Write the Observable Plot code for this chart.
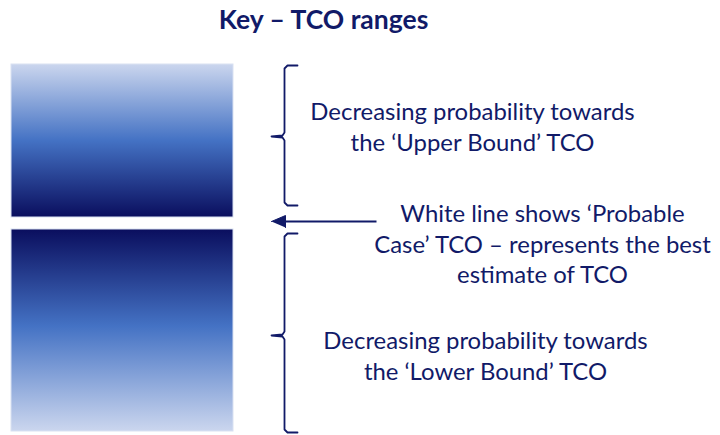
<!DOCTYPE html>
<html><head><meta charset="utf-8">
<script src="https://cdn.jsdelivr.net/npm/d3@7"></script>
<script src="https://cdn.jsdelivr.net/npm/@observablehq/plot@0.6"></script>
<style>html,body{margin:0;padding:0;background:#fff;}</style>
</head><body><div id="chart"></div>
<script>
// ---- diagram content (diagram units = 720 x 435 canvas) ----
const titleText = ["Key – TCO ranges"];
const bandIds = ["upper", "lower"];
const bandTop = [64, 229];
const bandBottom = [217, 431];
const bandLeft = 11, bandRight = 233;

const braceIds = ["upper", "lower"];
const braceTop = [65, 233];
const braceBottom = [205, 432];
const braceTipAt = [136, 335];

const probableCaseY = 221;          // white gap between the two bands
const arrowFrom = 376, arrowTo = 271;

const upperLabel = ["Decreasing probability towards", "the ‘Upper Bound’ TCO"];
const probableLabel = ["White line shows ‘Probable", "Case’ TCO – represents the best", "estimate of TCO"];
const lowerLabel = ["Decreasing probability towards", "the ‘Lower Bound’ TCO"];
const labelCenterX = [472, 542, 485];
const labelBaseline = [133, 250, 362];   // mean baseline of each block
const titleX = 323, titleBaseline = 28;

// ---- styles ----
const ink = "#111a68";
const fs = 23.9, lineGap = 30.5, titleFs = 26.5;
const font = "Lato, 'Open Sans', sans-serif";

const bands = bandIds.map((id, i) => ({id, x1: bandLeft, x2: bandRight, y1: bandTop[i], y2: bandBottom[i]}));

const hook = 13, tip = 13;
const bracePts = braceIds.flatMap((id, i) => {
  const x = 284, a = braceTop[i], b = braceBottom[i], m = braceTipAt[i];
  return [
    [x + hook, a], [x + 3, a], [x, a + 3], [x, m - 4], [x - 2, m - 1], [x - tip, m],
    [x - 2, m + 1], [x, m + 4], [x, b - 3], [x + 3, b], [x + hook, b]
  ].map(([px, py]) => ({id, x: px, y: py}));
});

const head = 14, halfH = 6;
const arrowLine = [{x1: arrowFrom, x2: arrowTo + head - 1, y: probableCaseY}];
const arrowHead = [
  {x: arrowTo, y: probableCaseY},
  {x: arrowTo + head, y: probableCaseY - halfH},
  {x: arrowTo + head, y: probableCaseY + halfH}
];

const labels = [upperLabel, probableLabel, lowerLabel].map((lines, i) => ({
  text: lines.join("\n"),
  x: labelCenterX[i],
  y: labelBaseline[i] - 0.32 * fs
}));

const plot = Plot.plot({
  width: 720, height: 435, margin: 0,
  x: {domain: [0, 720], axis: null},
  y: {domain: [0, 435], reverse: true, axis: null},
  style: {fontFamily: font, color: ink, background: "#fff"},
  marks: [
    Plot.rect(bands.filter(d => d.id === "upper"), {x1: "x1", x2: "x2", y1: "y1", y2: "y2", fill: "url(#grad-upper)", stroke: "#d9e1f2", strokeWidth: 1}),
    Plot.rect(bands.filter(d => d.id === "lower"), {x1: "x1", x2: "x2", y1: "y1", y2: "y2", fill: "url(#grad-lower)", stroke: "#d9e1f2", strokeWidth: 1}),
    Plot.line(bracePts, {x: "x", y: "y", z: "id", stroke: ink, strokeWidth: 1.8, strokeLinejoin: "round", strokeLinecap: "round"}),
    Plot.link(arrowLine, {x1: "x1", x2: "x2", y1: "y", y2: "y", stroke: ink, strokeWidth: 2}),
    Plot.line(arrowHead, {x: "x", y: "y", fill: ink, stroke: ink, strokeWidth: 1}),
    Plot.text(labels, {x: "x", y: "y", text: "text", fill: ink, fontSize: fs, lineHeight: lineGap / fs, lineAnchor: "middle", textAnchor: "middle"}),
    Plot.text(titleText, {x: () => titleX, y: () => titleBaseline - 0.32 * titleFs, text: d => d, fill: ink, fontSize: titleFs, fontWeight: "bold", textAnchor: "middle"})
  ]
});

const svgEl = plot.tagName.toLowerCase() === "svg" ? plot : plot.querySelector("svg");
const defs = d3.select(svgEl).insert("defs", ":first-child");
const stops = {
  upper: [[0, "#cbd6ee"], [0.5, "#4472c4"], [1, "#0a0e5e"]],
  lower: [[0, "#0a0e5e"], [0.48, "#4472c4"], [1, "#cbd6ee"]]
};
for (const id of bandIds) {
  const g = defs.append("linearGradient").attr("id", "grad-" + id)
    .attr("x1", 0).attr("y1", 0).attr("x2", 0).attr("y2", 1);
  for (const [o, c] of stops[id]) g.append("stop").attr("offset", o).attr("stop-color", c);
}
document.getElementById("chart").appendChild(plot);
</script>
</body></html>
